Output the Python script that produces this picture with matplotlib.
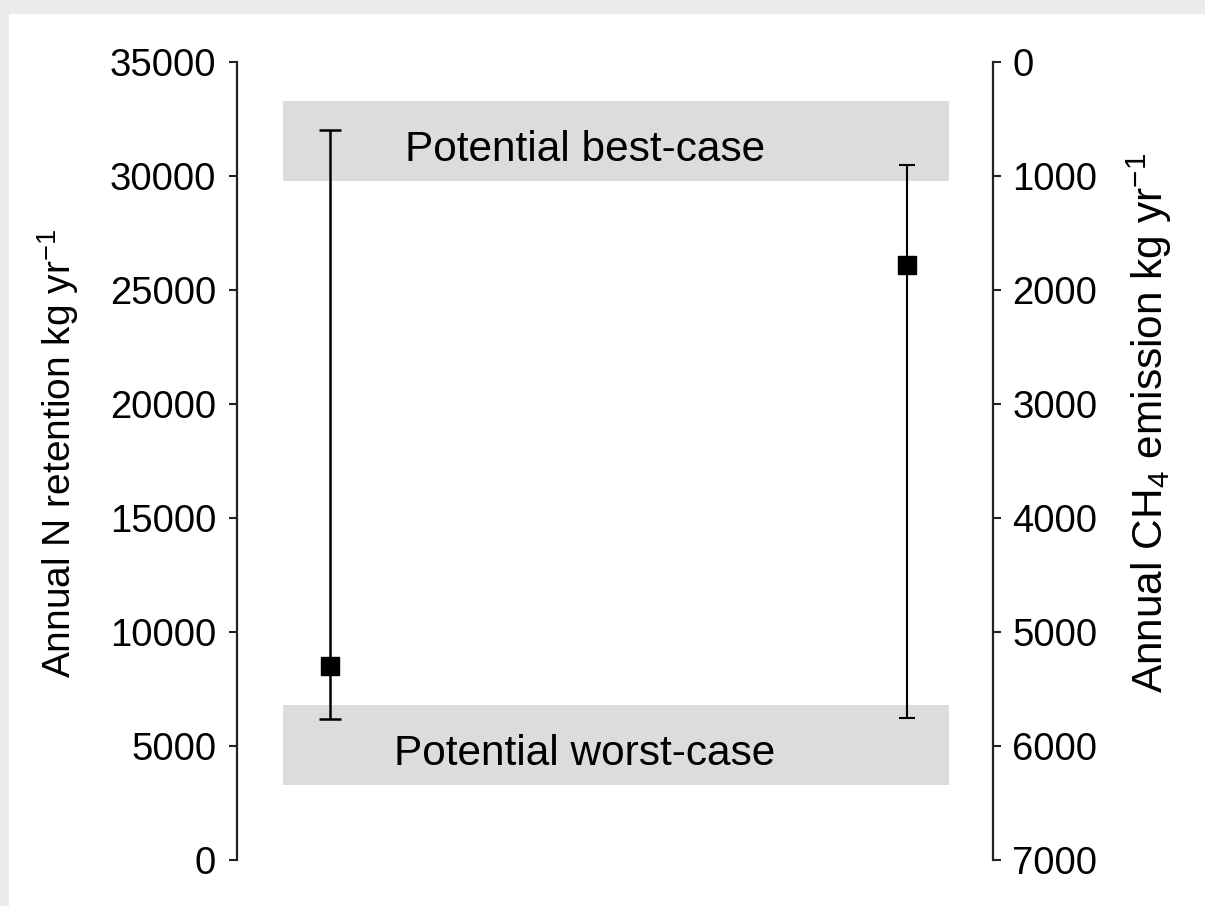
import matplotlib.pyplot as plt
from matplotlib.patches import Rectangle

plt.rcParams['font.family'] = ['Liberation Sans', 'DejaVu Sans']
plt.rcParams['mathtext.fontset'] = 'custom'
plt.rcParams['mathtext.rm'] = 'Liberation Sans'
plt.rcParams['mathtext.it'] = 'Liberation Sans'

# N retention (left axis, kg/yr)
n_value = 8500
n_low = 6200
n_high = 32000

# CH4 emission (right axis, inverted, kg/yr)
ch4_value = 1780
ch4_low = 900
ch4_high = 5750

# shaded bands in left-axis units
best_band = (29800, 33300)
worst_band = (3300, 6800)
band_labels = ['Potential best-case', 'Potential worst-case']

left_ticks = [0, 5000, 10000, 15000, 20000, 25000, 30000, 35000]
right_ticks = [0, 1000, 2000, 3000, 4000, 5000, 6000, 7000]

W, H = 1205, 906
fig = plt.figure(figsize=(W / 100, H / 100), dpi=100, facecolor='#ebebeb')
fig.patches.append(Rectangle((9 / W, 0), 1, 1 - 14 / H, transform=fig.transFigure,
                             facecolor='white', edgecolor='none', zorder=-5))

ax = fig.add_axes([237 / W, 1 - 860 / H, (993 - 237) / W, (860 - 62) / H])
ax.set_facecolor('none')
ax.set_xlim(0, 1)
ax.set_ylim(0, 35000)

band_x0, band_x1 = 0.061, 0.942
for (lo, hi), lab in zip([best_band, worst_band], band_labels):
    ax.add_patch(Rectangle((band_x0, lo), band_x1 - band_x0, hi - lo,
                           facecolor='#dcdcdc', edgecolor='none', zorder=1))
    ax.text(0.46, (lo + hi) / 2 - 420, lab, ha='center', va='center', fontsize=30.5, zorder=2)

ax.errorbar([0.123], [n_value], yerr=[[n_value - n_low], [n_high - n_value]],
            fmt='s', color='black', ms=13, capsize=8, elinewidth=1.8, capthick=1.8, zorder=3)

ax2 = ax.twinx()
ax2.set_ylim(7000, 0)
ax2.errorbar([0.886], [ch4_value], yerr=[[ch4_value - ch4_low], [ch4_high - ch4_value]],
             fmt='s', color='black', ms=13, capsize=6, elinewidth=1.5, capthick=1.5, zorder=3)

for a in (ax, ax2):
    for s in ('top', 'bottom'):
        a.spines[s].set_visible(False)
    a.set_xticks([])
ax.spines['right'].set_visible(False)
ax2.spines['left'].set_visible(False)
ax.spines['left'].set_linewidth(1.6)
ax2.spines['right'].set_linewidth(1.6)
ax.spines['left'].set_color('#222222')
ax2.spines['right'].set_color('#222222')

ax.set_yticks(left_ticks)
ax2.set_yticks(right_ticks)
ax.tick_params(axis='y', labelsize=27.5, length=6, width=1.5, pad=9, color='#222222')
ax2.tick_params(axis='y', labelsize=27.5, length=6, width=1.5, pad=8, color='#222222')

ax.set_ylabel('Annual N retention kg yr$^{-1}$', fontsize=28)
ax2.set_ylabel('Annual CH$_4$ emission kg yr$^{-1}$', fontsize=30.5)
ax.yaxis.label.set(va='baseline', ha='center')
ax2.yaxis.label.set(va='baseline', ha='center')
ax.yaxis.set_label_coords(71 / W, 1 - 453 / H, transform=fig.transFigure)
ax2.yaxis.set_label_coords(1163 / W, 1 - 423 / H, transform=fig.transFigure)

fig.savefig('out.png', dpi=100, facecolor=fig.get_facecolor())
